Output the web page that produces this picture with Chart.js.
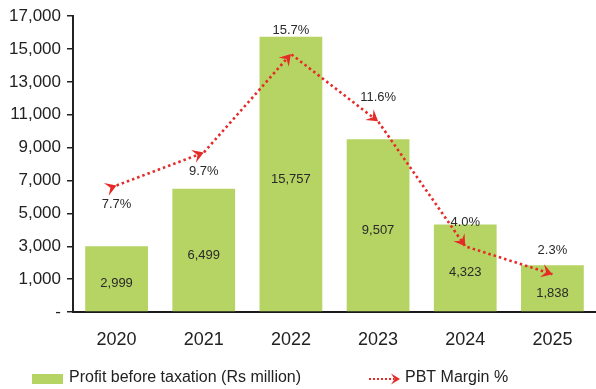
<!DOCTYPE html>
<html>
<head>
<meta charset="utf-8">
<script src="https://cdn.jsdelivr.net/npm/chart.js@4.4.1/dist/chart.umd.min.js"></script>
<style>
  html, body { margin: 0; padding: 0; background: #fff; }
  #wrap { width: 596px; height: 389px; }
</style>
</head>
<body>
<div id="wrap"><canvas id="chart" width="596" height="389"></canvas></div>
<script>
const years = ['2020', '2021', '2022', '2023', '2024', '2025'];
const profitBeforeTax = [2999, 6499, 15757, 9507, 4323, 1838]; // Rs million
const pbtMargin = [7.7, 9.7, 15.7, 11.6, 4.0, 2.3]; // %
const profitTicks = [-1000, 1000, 3000, 5000, 7000, 9000, 11000, 13000, 15000, 17000];

const GREEN = '#b6d463';
const RED = '#e52a28';
const FONT = '"Liberation Sans", Arial, Helvetica, sans-serif';

// filled "stealth" arrowhead with its tip at (x, y)
function arrowHead(ctx, x, y, ang, size) {
  ctx.save();
  ctx.translate(x, y);
  ctx.rotate(ang);
  ctx.beginPath();
  ctx.moveTo(0, 0);
  ctx.lineTo(-size, -size * 0.62);
  ctx.lineTo(-size * 0.6, 0);
  ctx.lineTo(-size, size * 0.62);
  ctx.closePath();
  ctx.fill();
  ctx.restore();
}

const labelsPlugin = {
  id: 'valueLabels',
  afterDatasetsDraw(chart) {
    const ctx = chart.ctx;
    const bars = chart.getDatasetMeta(1).data;
    const pts = chart.getDatasetMeta(0).data;
    ctx.save();
    ctx.font = '13px ' + FONT;
    ctx.fillStyle = '#2a2a2a';
    ctx.textAlign = 'center';
    ctx.textBaseline = 'middle';
    bars.forEach((b, i) => {
      ctx.fillText(profitBeforeTax[i].toLocaleString('en-US'), b.x, (b.y + b.base) / 2 + 5);
    });

    // arrowheads on the margin line, pointing along the line
    ctx.fillStyle = RED;
    pts.forEach((p, i) => {
      const ang = i === 0
        ? Math.atan2(pts[1].y - p.y, pts[1].x - p.x)
        : Math.atan2(p.y - pts[i - 1].y, p.x - pts[i - 1].x);
      arrowHead(ctx, p.x, p.y, ang, 11);
    });

    // margin labels: below the point while the line is still rising
    ctx.fillStyle = '#2a2a2a';
    pts.forEach((p, i) => {
      const rising = i < pbtMargin.length - 1 && pbtMargin[i + 1] > pbtMargin[i];
      ctx.fillText(pbtMargin[i].toFixed(1) + '%', p.x, rising ? p.y + 19 : p.y - 24);
    });
    ctx.restore();
  },
  afterDraw(chart) {
    // legend along the bottom
    const ctx = chart.ctx;
    const y = 378;
    ctx.save();
    ctx.fillStyle = GREEN;
    ctx.fillRect(32, y - 4, 31, 10);
    ctx.font = '16px ' + FONT;
    ctx.fillStyle = '#222';
    ctx.textBaseline = 'middle';
    ctx.fillText('Profit before taxation (Rs million)', 69, y);

    ctx.strokeStyle = RED;
    ctx.lineWidth = 2.2;
    ctx.setLineDash([2, 2]);
    ctx.beginPath();
    ctx.moveTo(369, y + 1);
    ctx.lineTo(394, y + 1);
    ctx.stroke();
    ctx.fillStyle = RED;
    arrowHead(ctx, 400, y + 1, 0, 9);
    ctx.fillStyle = '#222';
    ctx.fillText('PBT Margin %', 405, y);
    ctx.restore();
  }
};

new Chart(document.getElementById('chart'), {
  data: {
    labels: years,
    datasets: [
      {
        type: 'line',
        label: 'PBT Margin %',
        data: pbtMargin,
        yAxisID: 'y1',
        borderColor: RED,
        borderWidth: 2.6,
        borderDash: [2.5, 3],
        pointRadius: 0,
        tension: 0,
        order: 0
      },
      {
        type: 'bar',
        label: 'Profit before taxation (Rs million)',
        data: profitBeforeTax,
        yAxisID: 'y',
        base: -1000,
        backgroundColor: GREEN,
        categoryPercentage: 1,
        barPercentage: 0.72,
        order: 1
      }
    ]
  },
  options: {
    responsive: false,
    animation: false,
    layout: { padding: { top: 8, right: 0, bottom: 0, left: 0 } },
    plugins: {
      legend: { display: false },
      tooltip: { enabled: false }
    },
    scales: {
      x: {
        grid: { display: false, drawTicks: false },
        border: { color: '#1a1a1a', width: 2 },
        ticks: { color: '#222', font: { family: FONT, size: 18 }, padding: 17 },
        afterFit: s => { s.height = 77; }
      },
      y: {
        min: -1000,
        max: 17000,
        afterBuildTicks: s => { s.ticks = profitTicks.map(v => ({ value: v })); },
        ticks: {
          color: '#222',
          font: { family: FONT, size: 17 },
          padding: 6,
          callback: v => v === -1000 ? '-' : v.toLocaleString('en-US')
        },
        grid: { drawOnChartArea: false, tickLength: 6, color: '#222', lineWidth: 1.5 },
        border: { color: '#222', width: 2 },
        afterFit: s => { s.width = 73; }
      },
      y1: { display: false, min: 0, max: 18 }
    }
  },
  plugins: [labelsPlugin]
});
</script>
</body>
</html>
